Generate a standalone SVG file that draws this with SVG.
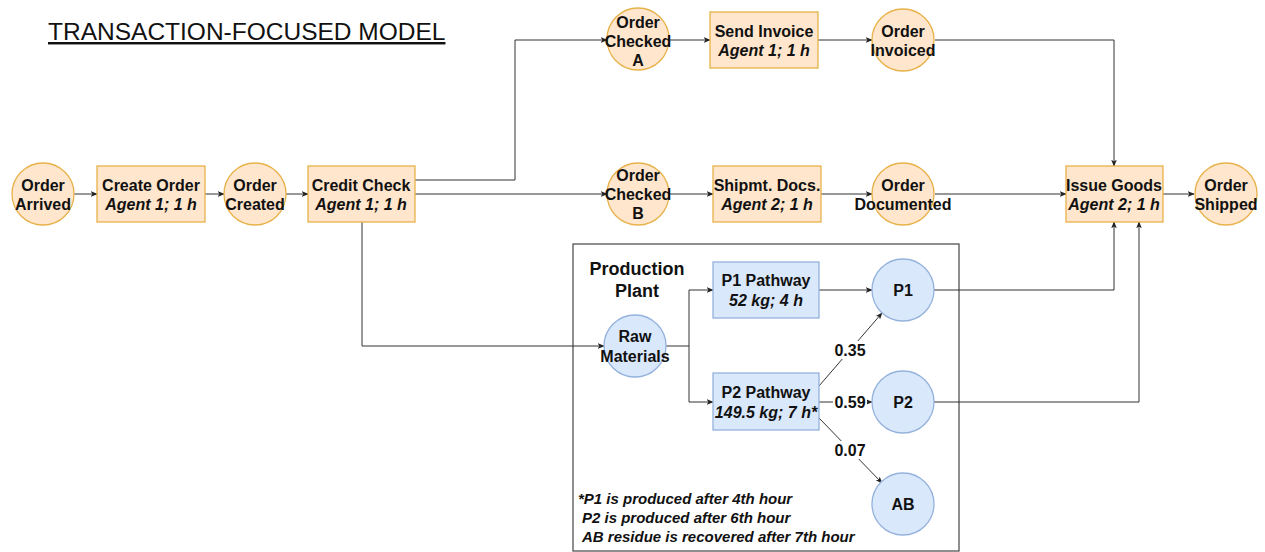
<svg xmlns="http://www.w3.org/2000/svg" width="1265" height="552" viewBox="0 0 1265 552">
  <defs>
    <marker id="arrow" viewBox="0 0 10 10" refX="9" refY="5" markerWidth="7" markerHeight="7" markerUnits="userSpaceOnUse" orient="auto">
      <path d="M0,1 L10,5 L0,9 L2.5,5 Z" fill="#222"/>
    </marker>
  </defs>
  <style>
    text { font-family: "Liberation Sans", Arial, sans-serif; fill: #111; }
    .title { font-size: 24.5px; text-decoration: underline; }
    .lbl { font-size: 16px; font-weight: bold; text-anchor: middle; }
    .it { font-style: italic; }
    .heading { font-size: 18px; font-weight: bold; text-anchor: middle; }
    .note { font-size: 15px; font-weight: bold; font-style: italic; }
    .event { fill: #ffe6cc; stroke: #e8b24a; stroke-width: 1.3; }
    .task { fill: #ffe6cc; stroke: #e8b24a; stroke-width: 1.3; }
    .prod { fill: #dae8fc; stroke: #94b2dc; stroke-width: 1.3; }
    .plant { fill: none; stroke: #444; stroke-width: 1.2; }
    .edge { fill: none; stroke: #333; stroke-width: 1; marker-end: url(#arrow); }
    .tag { fill: #fff; }
  </style>

  <rect width="1265" height="552" fill="#ffffff"/>

  <text class="title" x="48" y="40">TRANSACTION-FOCUSED MODEL</text>

  <!-- production plant frame -->
  <g id="plant">
    <rect class="plant" x="573" y="244" width="386" height="307"/>
    <text class="heading" x="637" y="275">Production</text>
    <text class="heading" x="637" y="297">Plant</text>
    <text class="note" x="578" y="504">*P1 is produced after 4th hour</text>
    <text class="note" x="582" y="523">P2 is produced after 6th hour</text>
    <text class="note" x="582" y="542">AB residue is recovered after 7th hour</text>
  </g>

  <!-- connectors -->
  <g id="connectors">
    <path class="edge" d="M74,194 H97"/>
    <path class="edge" d="M205,194 H224"/>
    <path class="edge" d="M286,194 H308"/>
    <path class="edge" d="M415,180 H515 V40 H607"/>
    <path class="edge" d="M415,194 H607"/>
    <path class="edge" d="M362,222 V346 H604"/>
    <path class="edge" d="M670,40 H710"/>
    <path class="edge" d="M818,40 H872"/>
    <path class="edge" d="M935,40 H1114 V166"/>
    <path class="edge" d="M670,194 H713"/>
    <path class="edge" d="M821,194 H872"/>
    <path class="edge" d="M935,194 H1066"/>
    <path class="edge" d="M1163,194 H1194"/>
    <path class="edge" d="M934,290 H1114 V222"/>
    <path class="edge" d="M934,402 H1139 V222"/>
    <path class="edge" d="M666,346 H689 V290 H713"/>
    <path class="edge" d="M689,346 V402 H713"/>
    <path class="edge" d="M819,290 H872"/>
    <path class="edge" d="M819,386 L882,313"/>
    <path class="edge" d="M819,402 H872"/>
    <path class="edge" d="M819,418 L882,483"/>
    <!-- split ratios -->
    <rect class="tag" x="833" y="341" width="34" height="18"/>
    <text class="lbl" x="850" y="356">0.35</text>
    <rect class="tag" x="833" y="394" width="34" height="16"/>
    <text class="lbl" x="850" y="408">0.59</text>
    <rect class="tag" x="833" y="441" width="34" height="18"/>
    <text class="lbl" x="850" y="456">0.07</text>
  </g>

  <!-- order flow -->
  <g id="order-arrived">
    <circle class="event" cx="43" cy="194" r="31"/>
    <text class="lbl" x="43" y="191">Order</text>
    <text class="lbl" x="43" y="210">Arrived</text>
  </g>
  <g id="create-order">
    <rect class="task" x="97" y="166" width="108" height="56"/>
    <text class="lbl" x="151" y="191">Create Order</text>
    <text class="lbl it" x="151" y="210">Agent 1; 1 h</text>
  </g>
  <g id="order-created">
    <circle class="event" cx="255" cy="194" r="31"/>
    <text class="lbl" x="255" y="191">Order</text>
    <text class="lbl" x="255" y="210">Created</text>
  </g>
  <g id="credit-check">
    <rect class="task" x="308" y="166" width="107" height="56"/>
    <text class="lbl" x="361" y="191">Credit Check</text>
    <text class="lbl it" x="361" y="210">Agent 1; 1 h</text>
  </g>
  <g id="order-checked-a">
    <circle class="event" cx="638" cy="39" r="31"/>
    <text class="lbl" x="638" y="28">Order</text>
    <text class="lbl" x="638" y="47">Checked</text>
    <text class="lbl" x="638" y="66">A</text>
  </g>
  <g id="send-invoice">
    <rect class="task" x="710" y="12" width="108" height="56"/>
    <text class="lbl" x="764" y="37">Send Invoice</text>
    <text class="lbl it" x="764" y="56">Agent 1; 1 h</text>
  </g>
  <g id="order-invoiced">
    <circle class="event" cx="903" cy="40" r="31"/>
    <text class="lbl" x="903" y="37">Order</text>
    <text class="lbl" x="903" y="56">Invoiced</text>
  </g>
  <g id="order-checked-b">
    <circle class="event" cx="638" cy="194" r="31"/>
    <text class="lbl" x="638" y="181">Order</text>
    <text class="lbl" x="638" y="200">Checked</text>
    <text class="lbl" x="638" y="219">B</text>
  </g>
  <g id="shipment-docs">
    <rect class="task" x="713" y="166" width="108" height="56"/>
    <text class="lbl" x="767" y="191">Shipmt. Docs.</text>
    <text class="lbl it" x="767" y="210">Agent 2; 1 h</text>
  </g>
  <g id="order-documented">
    <circle class="event" cx="903" cy="194" r="31"/>
    <text class="lbl" x="903" y="191">Order</text>
    <text class="lbl" x="903" y="210">Documented</text>
  </g>
  <g id="issue-goods">
    <rect class="task" x="1066" y="166" width="97" height="56"/>
    <text class="lbl" x="1114" y="191">Issue Goods</text>
    <text class="lbl it" x="1114" y="210">Agent 2; 1 h</text>
  </g>
  <g id="order-shipped">
    <circle class="event" cx="1226" cy="194" r="31"/>
    <text class="lbl" x="1226" y="191">Order</text>
    <text class="lbl" x="1226" y="210">Shipped</text>
  </g>

  <!-- production nodes -->
  <g id="raw-materials">
    <circle class="prod" cx="635" cy="346" r="31"/>
    <text class="lbl" x="635" y="342">Raw</text>
    <text class="lbl" x="635" y="362">Materials</text>
  </g>
  <g id="p1-pathway">
    <rect class="prod" x="713" y="262" width="106" height="56"/>
    <text class="lbl" x="766" y="286">P1 Pathway</text>
    <text class="lbl it" x="766" y="306">52 kg; 4 h</text>
  </g>
  <g id="p2-pathway">
    <rect class="prod" x="713" y="373" width="106" height="57"/>
    <text class="lbl" x="766" y="398">P2 Pathway</text>
    <text class="lbl it" x="766" y="418">149.5 kg; 7 h*</text>
  </g>
  <g id="p1">
    <circle class="prod" cx="903" cy="290" r="31"/>
    <text class="lbl" x="903" y="296">P1</text>
  </g>
  <g id="p2">
    <circle class="prod" cx="903" cy="402" r="31"/>
    <text class="lbl" x="903" y="408">P2</text>
  </g>
  <g id="ab">
    <circle class="prod" cx="903" cy="504" r="31"/>
    <text class="lbl" x="903" y="510">AB</text>
  </g>
</svg>
